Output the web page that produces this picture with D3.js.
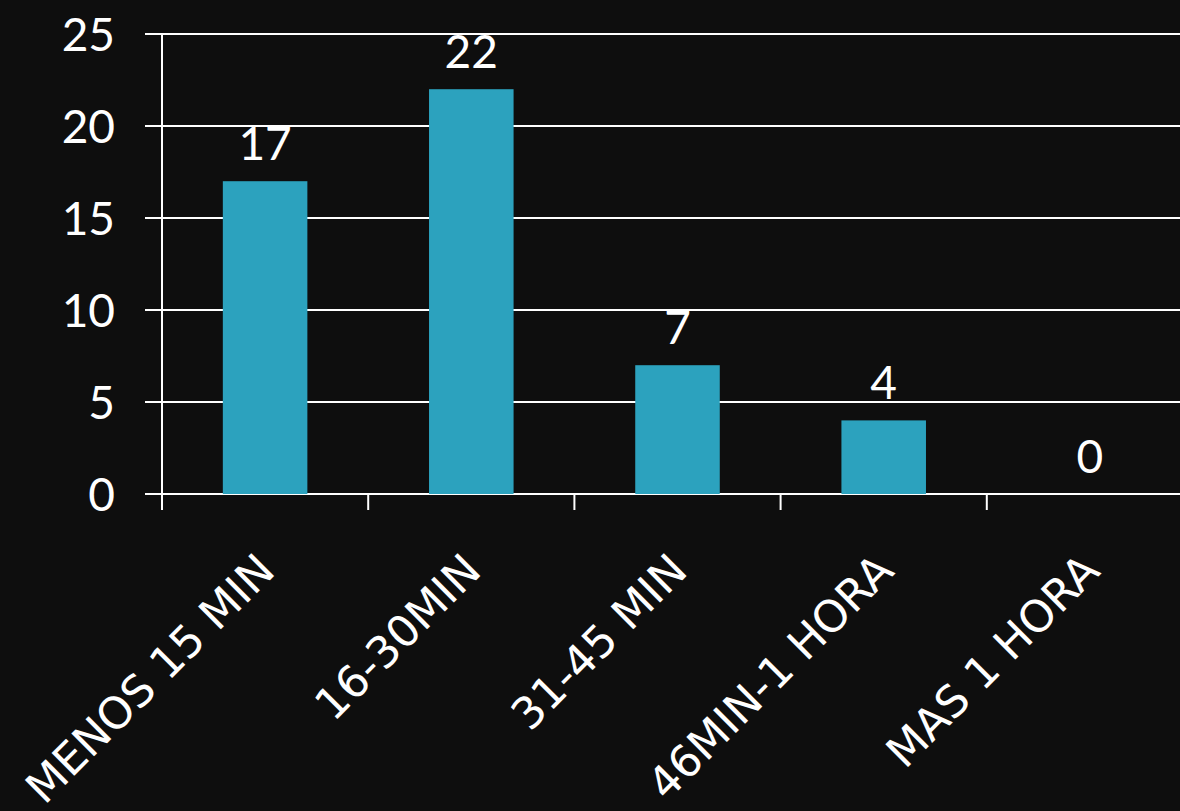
<!DOCTYPE html>
<html>
<head>
<meta charset="utf-8">
<script src="https://cdn.jsdelivr.net/npm/d3@7"></script>
<style>
  html, body { margin: 0; padding: 0; background: #0e0e0e; }
  svg { display: block; }
</style>
</head>
<body>
<svg id="chart" width="1180" height="811"></svg>
<script>
const categories = ["MENOS 15 MIN", "16-30MIN", "31-45 MIN", "46MIN-1 HORA", "MAS 1 HORA"];
const values = [17, 22, 7, 4, 0];
const yTicks = [0, 5, 10, 15, 20, 25];

const W = 1180, H = 811;
const svg = d3.select("#chart");
svg.append("rect").attr("width", W).attr("height", H).attr("fill", "#0e0e0e");

const x = d3.scaleBand().domain(categories).range([162, 1193]).padding(0);
const y = d3.scaleLinear().domain([0, 25]).range([494, 34]);
const barW = x.bandwidth() * 0.41;

const white = "#ffffff";
const numFont = "Lato, 'Open Sans', sans-serif";
const lblFont = "'DejaVu Sans', sans-serif";

// gridlines
svg.append("g").selectAll("line").data(yTicks).join("line")
  .attr("x1", 145).attr("x2", W)
  .attr("y1", d => y(d)).attr("y2", d => y(d))
  .attr("stroke", white).attr("stroke-width", 2);

// y axis line
svg.append("line")
  .attr("x1", 162).attr("x2", 162)
  .attr("y1", y(25)).attr("y2", y(0) + 16)
  .attr("stroke", white).attr("stroke-width", 2);

// x ticks at band boundaries
svg.append("g").selectAll("line").data(categories.slice(1)).join("line")
  .attr("x1", d => x(d)).attr("x2", d => x(d))
  .attr("y1", y(0)).attr("y2", y(0) + 16)
  .attr("stroke", white).attr("stroke-width", 2);

// y labels
svg.append("g").selectAll("text").data(yTicks).join("text")
  .attr("x", 115).attr("y", d => y(d))
  .attr("dy", "0.36em")
  .attr("text-anchor", "end")
  .attr("fill", white)
  .style("font-family", numFont).style("font-size", "46px")
  .text(d => d);

// bars
svg.append("g").selectAll("rect").data(values).join("rect")
  .attr("x", (d, i) => x(categories[i]) + (x.bandwidth() - barW) / 2)
  .attr("width", barW)
  .attr("y", d => y(d))
  .attr("height", d => y(0) - y(d))
  .attr("fill", "#2ca2be");

// value labels
svg.append("g").selectAll("text").data(values).join("text")
  .attr("x", (d, i) => x(categories[i]) + x.bandwidth() / 2)
  .attr("y", d => y(d) - 21)
  .attr("text-anchor", "middle")
  .attr("fill", white)
  .style("font-family", numFont).style("font-size", "46px")
  .text(d => d);

// x labels rotated
svg.append("g").selectAll("text").data(categories).join("text")
  .attr("transform", d => `translate(${x(d) + x.bandwidth() / 2 + 12},${y(0) + 79}) rotate(-45)`)
  .attr("text-anchor", "end")
  .attr("fill", white)
  .style("font-family", lblFont).style("font-size", "44px")
  .text(d => d);
</script>
</body>
</html>
